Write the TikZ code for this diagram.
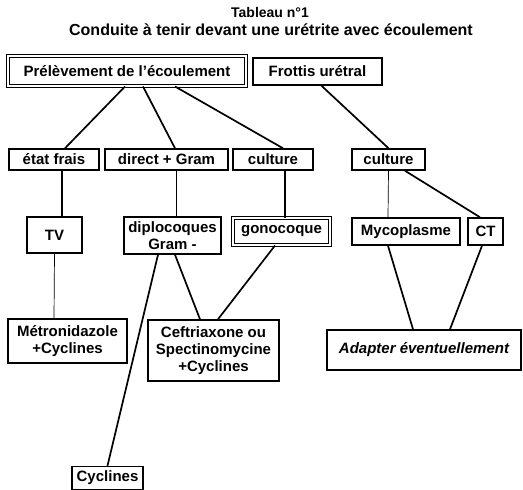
\documentclass[tikz,border=0pt]{standalone}
\usepackage{fontspec}
\setmainfont{Liberation Sans}
\usetikzlibrary{arrows}

\begin{document}
\begin{tikzpicture}[x=1pt,y=-1pt,font=\bfseries\fontsize{15}{17}\selectfont]
  \tikzstyle{box}=[rectangle,draw,line width=1.5pt,inner sep=0pt,align=center]
  \tikzstyle{double box}=[box,double,double distance=1.4pt,line width=1pt]
  \tikzstyle{thick link}=[line width=1.7pt]
  \tikzstyle{thin link}=[line width=0.7pt]
  \useasboundingbox (0,0) rectangle (523,490);

  \node (title) at (270,12) {\fontsize{14}{16}\selectfont Tableau n°1};
  \node (sub) at (271,30) {\fontsize{16}{17}\selectfont Conduite à tenir devant une urétrite avec écoulement};

  \node [double box,minimum width=238pt,minimum height=30pt] (prel) at (127,71) {Prélèvement de l'écoulement};
  \node [box,minimum width=129pt,minimum height=27pt] (frottis) at (317.5,71.5) {Frottis urétral};

  \node [box,minimum width=90pt,minimum height=21pt] (frais) at (54,159.5) {état frais};
  \node [box,minimum width=123pt,minimum height=21pt] (gram) at (166.5,159.5) {direct + Gram};
  \node [box,minimum width=80pt,minimum height=21pt] (cult) at (273,159.5) {culture};
  \node [box,minimum width=73pt,minimum height=21pt] (cultb) at (388.5,159.5) {culture};

  \node [box,minimum width=55pt,minimum height=36pt] (tv) at (54.5,235) {TV};
  \node [box,minimum width=97pt,minimum height=37pt] (diplo) at (172.5,235.5) {diplocoques\\Gram -};
  \node [double box,minimum width=97pt,minimum height=27pt] (gono) at (281.5,231.5) {gonocoque};
  \node [box,minimum width=108pt,minimum height=27pt] (myco) at (406,231.5) {Mycoplasme};
  \node [box,minimum width=35pt,minimum height=27pt] (ct) at (485.5,231.5) {CT};

  \node [box,minimum width=119pt,minimum height=44pt] (metro) at (67.5,341) {Métronidazole\\+Cyclines};
  \node [box,minimum width=131pt,minimum height=61pt] (ceft) at (213.5,350.5) {Ceftriaxone ou\\Spectinomycine\\+Cyclines};
  \node [box,minimum width=194pt,minimum height=40pt] (adapt) at (424,350) {\itshape Adapter éventuellement};
  \node [box,minimum width=71pt,minimum height=23pt] (cycl) at (107.5,478) {Cyclines};

  \draw [thick link] ([xshift=-2pt]prel.south) -- ([xshift=11pt]frais.north);
  \draw [thick link] ([xshift=16pt]prel.south) -- ([xshift=8.5pt]gram.north);
  \draw [thick link] ([xshift=48pt]prel.south) -- ([xshift=10pt]cult.north);
  \draw [thick link] ([xshift=4pt]frottis.south) -- (cultb.north);

  \draw [thick link] ([xshift=8pt]frais.south) -- ([xshift=7.5pt]tv.north);
  \draw [thin link] ([xshift=9.5pt]gram.south) -- ([xshift=3.5pt]diplo.north);
  \draw [thick link] ([xshift=12pt]cult.south) -- ([xshift=3.5pt]gono.north);
  \draw [thin link] (cultb.south) -- ([xshift=-18pt]myco.north);
  \draw [thick link] ([xshift=16.5pt]cultb.south) -- ([xshift=-5.5pt]ct.north);

  \draw [thin link] (tv.south) -- ([xshift=-13.5pt]metro.north);
  \draw [thick link] ([xshift=2.5pt]diplo.south) -- ([xshift=-13.5pt]ceft.north);
  \draw [thick link] ([xshift=-6.5pt]gono.south) -- ([xshift=4.5pt]ceft.north);
  \draw [thick link] ([xshift=-14.5pt]diplo.south) -- (cycl.north);
  \draw [thick link] ([xshift=-18pt]myco.south) -- ([xshift=-11pt]adapt.north);
  \draw [thick link] ([xshift=-3.5pt]ct.south) -- ([xshift=26pt]adapt.north);
\end{tikzpicture}
\end{document}
